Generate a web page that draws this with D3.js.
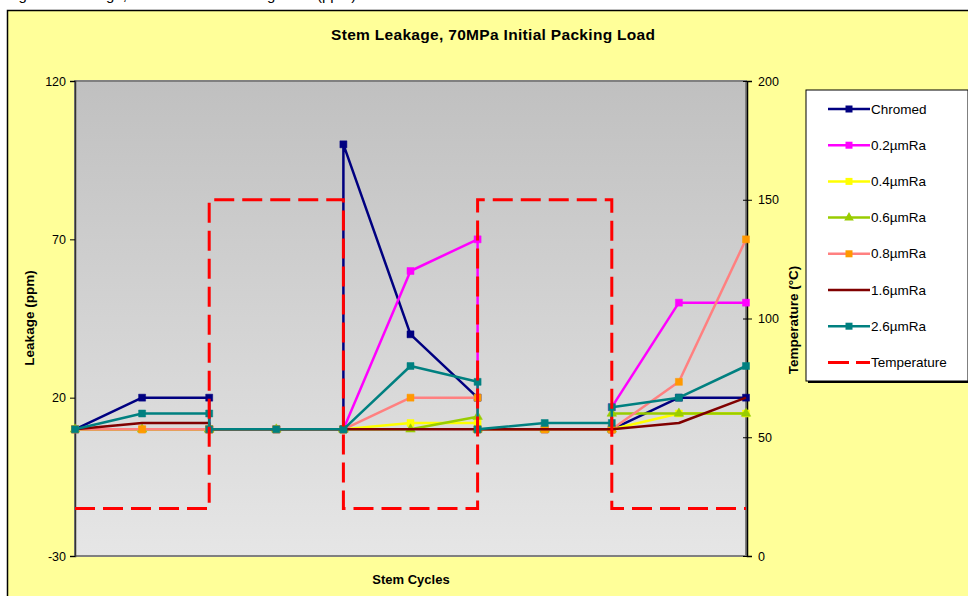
<!DOCTYPE html>
<html><head><meta charset="utf-8">
<script src="https://cdn.jsdelivr.net/npm/d3@7"></script>
<style>
html,body{margin:0;padding:0;background:#fff;}
svg{display:block;font-family:Arial,"Liberation Sans",sans-serif;}
</style></head>
<body>
<svg id="chart" width="968" height="596"></svg>
<script>
// ---- data ----
const cycles = [0, 1, 2, 2, 3, 4, 4, 5, 6, 6, 7, 8, 8, 9, 10];
const chromed = [10, 20, 20, 10, 10, 10, 100, 40, 20, 10, 10, 10, 10, 20, 20];
const ra02 = [10, 10, 10, 10, 10, 10, 10, 60, 70, 10, 10, 10, 17, 50, 50];
const ra04 = [10, 10, 10, 10, 10, 10, 10, 12, 12, 10, 10, 10, 10, 15, 15];
const ra06 = [10, 10, 10, 10, 10, 10, 10, 10, 14, 10, 10, 10, 15, 15, 15];
const ra08 = [10, 10, 10, 10, 10, 10, 10, 20, 20, 10, 10, 10, 10, 25, 70];
const ra16 = [10, 12, 12, 10, 10, 10, 10, 10, 10, 10, 10, 10, 10, 12, 20];
const ra26 = [10, 15, 15, 10, 10, 10, 10, 30, 25, 10, 12, 12, 17, 20, 30];
const tempCycles = [0, 2, 2, 4, 4, 6, 6, 8, 8, 10];
const temperature = [20, 20, 150, 150, 20, 20, 150, 150, 20, 20];
const leftTicks = [-30, 20, 70, 120];
const rightTicks = [0, 50, 100, 150, 200];
const seriesNames = ["Chromed", "0.2\u00b5mRa", "0.4\u00b5mRa", "0.6\u00b5mRa", "0.8\u00b5mRa", "1.6\u00b5mRa", "2.6\u00b5mRa"];
const seriesValues = [chromed, ra02, ra04, ra06, ra08, ra16, ra26];
const lineColors = ["#000080", "#FF00FF", "#FFFF00", "#99CC00", "#FF8080", "#800000", "#008080"];
const markerColors = ["#000080", "#FF00FF", "#FFFF00", "#99CC00", "#FF9900", null, "#008080"];
const markerShapes = ["square", "square", "square", "triangle", "square", null, "square"];

const svg = d3.select("#chart");
const font = 'Arial, "Liberation Sans", sans-serif';

// caption cut off at top of the picture (only descenders visible)
svg.append("text").attr("x", 6).attr("y", -0.5).attr("font-size", 15).attr("fill", "#000")
  .text("Figure 9 Leakage, 70MPa Initial Packing Load (ppm)");

// outer chart area
svg.append("rect").attr("x", 7.5).attr("y", 10.5).attr("width", 975).attr("height", 600)
  .attr("fill", "#FFFF99").attr("stroke", "#000").attr("stroke-width", 1.5);

const L = 75, R = 746, T = 81, B = 556;
const x = d3.scaleLinear().domain([0, 10]).range([L, R]);
const yL = d3.scaleLinear().domain([-30, 120]).range([B, T]);
const yR = d3.scaleLinear().domain([0, 200]).range([B, T]);

// gradient plot background
const defs = svg.append("defs");
const grad = defs.append("linearGradient").attr("id", "pg").attr("x1", 0).attr("y1", 0).attr("x2", 0).attr("y2", 1);
grad.append("stop").attr("offset", "0%").attr("stop-color", "#C0C0C0");
grad.append("stop").attr("offset", "100%").attr("stop-color", "#E6E6E6");
defs.append("clipPath").attr("id", "clip").append("rect")
  .attr("x", L - 6).attr("y", T - 6).attr("width", R - L + 12).attr("height", B - T + 12);

svg.append("rect").attr("x", L).attr("y", T).attr("width", R - L).attr("height", B - T)
  .attr("fill", "url(#pg)").attr("stroke", "#808080").attr("stroke-width", 2);

// axes
const fmt = d => String(d);
const axL = d3.axisLeft(yL).tickValues(leftTicks).tickFormat(fmt).tickSize(5).tickPadding(4);
const gL = svg.append("g").attr("transform", `translate(${L},0)`).call(axL);
gL.select(".domain").attr("stroke", "#333").attr("stroke-width", 1.5);
const axR = d3.axisRight(yR).tickValues(rightTicks).tickFormat(fmt).tickSize(5).tickPadding(6);
const gR = svg.append("g").attr("transform", `translate(${R + 1},0)`).call(axR);
gR.select(".domain").attr("stroke", "#000").attr("stroke-width", 1.5);
gR.selectAll(".tick line").attr("x1", -4);
[gL, gR].forEach(g => {
  g.selectAll("text").attr("font-size", 12.5).attr("font-family", font).attr("fill", "#000");
  g.selectAll(".tick line").attr("stroke", "#000");
});

// series
const plot = svg.append("g").attr("clip-path", "url(#clip)");
const line = d3.line();
seriesValues.forEach((vals, i) => {
  const pts = vals.map((v, j) => [x(cycles[j]), yL(v)]);
  plot.append("path").attr("d", line(pts)).attr("fill", "none")
    .attr("stroke", lineColors[i]).attr("stroke-width", 2.5).attr("stroke-linejoin", "round");
  if (markerShapes[i]) {
    const sym = markerShapes[i] === "triangle" ? d3.symbolTriangle : d3.symbolSquare;
    const size = markerShapes[i] === "triangle" ? 40 : 49;
    plot.selectAll(null).data(pts).enter().append("path")
      .attr("d", d3.symbol().type(sym).size(size))
      .attr("transform", d => `translate(${d[0]},${d[1]})`)
      .attr("fill", markerColors[i]).attr("stroke", markerColors[i]).attr("stroke-width", 0.5);
  }
});
const tpts = temperature.map((v, j) => [x(tempCycles[j]), yR(v)]);
plot.append("path").attr("d", line(tpts)).attr("fill", "none")
  .attr("stroke", "#FF0000").attr("stroke-width", 3).attr("stroke-dasharray", "20,8");

// titles
svg.append("text").attr("x", 493).attr("y", 40).attr("text-anchor", "middle")
  .attr("font-size", 15.5).attr("font-weight", "bold")
  .attr("textLength", 324).attr("lengthAdjust", "spacing")
  .text("Stem Leakage, 70MPa Initial Packing Load");
svg.append("text").attr("transform", "translate(34,318) rotate(-90)").attr("text-anchor", "middle")
  .attr("font-size", 13.5).attr("font-weight", "bold").text("Leakage (ppm)");
svg.append("text").attr("transform", "translate(798,320) rotate(-90)").attr("text-anchor", "middle")
  .attr("font-size", 13.5).attr("font-weight", "bold").text("Temperature (\u00b0C)");
svg.append("text").attr("x", 411).attr("y", 584).attr("text-anchor", "middle")
  .attr("font-size", 13).attr("font-weight", "bold").text("Stem Cycles");

// legend
const lg = svg.append("g");
lg.append("rect").attr("x", 808).attr("y", 92).attr("width", 162).attr("height", 291).attr("fill", "#000");
lg.append("rect").attr("x", 806).attr("y", 90).attr("width", 162).attr("height", 291)
  .attr("fill", "#fff").attr("stroke", "#000").attr("stroke-width", 1);
const legendNames = seriesNames.concat(["Temperature"]);
legendNames.forEach((name, i) => {
  const yy = 109 + i * 36.2;
  const isTemp = i === seriesNames.length;
  lg.append("line").attr("x1", 828).attr("x2", 870).attr("y1", yy).attr("y2", yy)
    .attr("stroke", isTemp ? "#FF0000" : lineColors[i]).attr("stroke-width", isTemp ? 3 : 2.5)
    .attr("stroke-dasharray", isTemp ? "21,7" : null);
  if (!isTemp && markerShapes[i]) {
    const sym = markerShapes[i] === "triangle" ? d3.symbolTriangle : d3.symbolSquare;
    lg.append("path").attr("d", d3.symbol().type(sym).size(markerShapes[i] === "triangle" ? 40 : 49))
      .attr("transform", `translate(849,${yy})`).attr("fill", markerColors[i]);
  }
  lg.append("text").attr("x", 871).attr("y", yy + 4.5).attr("font-size", 13.5).text(name);
});
</script>
</body></html>
